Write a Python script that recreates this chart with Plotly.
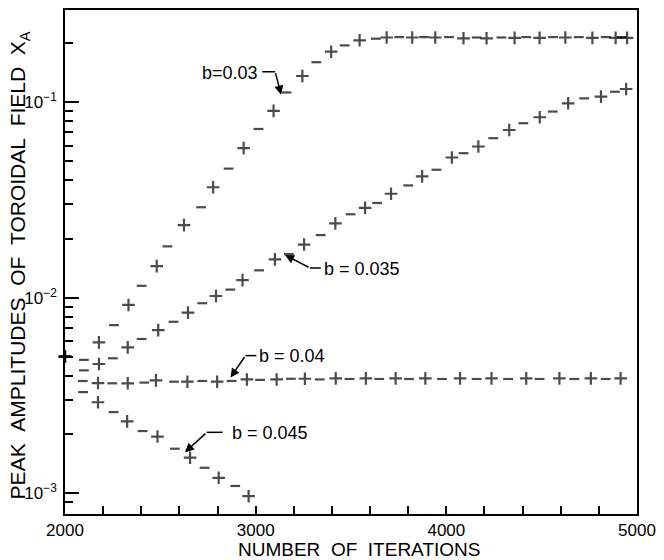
import plotly.graph_objects as go

# ---------------- data ----------------
# b = 0.03
it_030 = [2000, 2099, 2178, 2257, 2333, 2402, 2481, 2537, 2624, 2714, 2777, 2858, 2937, 3015,
          3094, 3162, 3245, 3318, 3396, 3467, 3545, 3630, 3687, 3753, 3821, 3883, 3942, 4014,
          4090, 4159, 4211, 4289, 4358, 4419, 4489, 4560, 4624, 4695, 4766, 4836, 4888, 4919, 4948]
amp_030 = [5.0e-3, 4.81e-3, 5.91e-3, 7.24e-3, 9.18e-3, 1.15e-2, 1.45e-2, 1.83e-2, 2.35e-2, 2.90e-2,
           3.67e-2, 4.57e-2, 5.82e-2, 7.29e-2, 9.02e-2, 0.112, 0.136, 0.160, 0.181, 0.195, 0.207,
           0.211, 0.214, 0.215, 0.214, 0.215, 0.214, 0.215, 0.212, 0.214, 0.212, 0.214, 0.213,
           0.215, 0.213, 0.215, 0.214, 0.215, 0.213, 0.215, 0.213, 0.215, 0.213]

# b = 0.035
it_035 = [2000, 2099, 2178, 2251, 2329, 2402, 2489, 2569, 2645, 2720, 2792, 2867, 2931, 3018,
          3101, 3174, 3254, 3341, 3418, 3498, 3574, 3637, 3710, 3800, 3873, 3948, 4029, 4090,
          4168, 4246, 4330, 4404, 4490, 4558, 4639, 4723, 4811, 4884, 4943]
amp_035 = [5.0e-3, 4.25e-3, 4.58e-3, 4.90e-3, 5.57e-3, 6.15e-3, 6.83e-3, 7.53e-3, 8.39e-3, 9.37e-3,
           1.02e-2, 1.10e-2, 1.23e-2, 1.38e-2, 1.57e-2, 1.67e-2, 1.87e-2, 2.09e-2, 2.40e-2, 2.67e-2,
           2.88e-2, 3.05e-2, 3.40e-2, 3.75e-2, 4.17e-2, 4.51e-2, 5.21e-2, 5.48e-2, 5.93e-2, 6.54e-2,
           7.20e-2, 7.80e-2, 8.37e-2, 8.95e-2, 9.86e-2, 0.1045, 0.1067, 0.113, 0.1167]

# b = 0.04
it_040 = [2000, 2093, 2173, 2248, 2329, 2416, 2477, 2572, 2642, 2720, 2798, 2874, 2954, 3023,
          3110, 3185, 3258, 3336, 3420, 3492, 3578, 3648, 3734, 3804, 3890, 3977, 4072, 4159,
          4237, 4324, 4419, 4489, 4593, 4671, 4758, 4836, 4914]
amp_040 = [5.0e-3, 3.75e-3, 3.66e-3, 3.65e-3, 3.65e-3, 3.68e-3, 3.78e-3, 3.72e-3, 3.72e-3, 3.75e-3,
           3.72e-3, 3.75e-3, 3.82e-3, 3.80e-3, 3.82e-3, 3.85e-3, 3.85e-3, 3.82e-3, 3.87e-3, 3.84e-3,
           3.87e-3, 3.84e-3, 3.87e-3, 3.84e-3, 3.87e-3, 3.84e-3, 3.87e-3, 3.84e-3, 3.87e-3, 3.84e-3,
           3.87e-3, 3.84e-3, 3.87e-3, 3.84e-3, 3.87e-3, 3.84e-3, 3.87e-3]

# b = 0.045
it_045 = [2000, 2095, 2173, 2255, 2326, 2407, 2485, 2576, 2656, 2732, 2806, 2893, 2963]
amp_045 = [5.0e-3, 3.29e-3, 2.92e-3, 2.60e-3, 2.33e-3, 2.08e-3, 1.95e-3, 1.69e-3, 1.52e-3,
           1.35e-3, 1.20e-3, 1.09e-3, 9.66e-4]

# sign of each peak alternates (+, -, +, ...)
def signs(n):
    return ["+" if i % 2 == 0 else "-" for i in range(n)]

series = [
    ("b = 0.03", it_030, amp_030),
    ("b = 0.035", it_035, amp_035),
    ("b = 0.04", it_040, amp_040),
    ("b = 0.045", it_045, amp_045),
]

x_ticks = [2000, 3000, 4000, 5000]
y_ticks = [1e-3, 1e-2, 1e-1]
y_ticktext = ["10<sup>\u22123</sup>", "10<sup>\u22122</sup>", "10<sup>\u22121</sup>"]

# ---------------- figure ----------------
W, H = 664, 560
L, R, T, B = 65, 22, 8, 46
PW, PH = W - L - R, H - T - B

def px(xp):
    return (xp - L) / PW

def py(yp):
    return (H - B - yp) / PH

FONT = "Liberation Sans, Arial, sans-serif"
fig = go.Figure()

for name, its, amps in series:
    sg = signs(len(its))
    sym = ["cross-thin" if s == "+" else "line-ew" for s in sg]
    size = [9 if s == "+" else 7 for s in sg]
    fig.add_trace(go.Scatter(
        x=its, y=amps, mode="markers", name=name, showlegend=False, cliponaxis=False,
        marker=dict(symbol=sym, size=size, color="black",
                    line=dict(color="black", width=2.2)),
    ))

minor_y = [m * 10.0 ** e for e in (-4, -3, -2, -1) for m in range(2, 10)]
minor_y = [v for v in minor_y if 8e-4 < v < 0.3 and v not in y_ticks]
minor_x = list(range(2200, 5000, 200))

fig.update_layout(
    width=W, height=H,
    margin=dict(l=L, r=R, t=T, b=B, pad=0),
    paper_bgcolor="white", plot_bgcolor="white",
    font=dict(family=FONT, color="black", size=17),
    xaxis=dict(range=[2000, 5000], tickvals=x_ticks, ticks="inside", ticklen=8,
               tickwidth=1.5, tickcolor="black", showgrid=False, zeroline=False,
               showline=True, linecolor="black", linewidth=1.5, mirror=True,
               tickfont=dict(size=17), ticklabelstandoff=0,
               minor=dict(tickvals=minor_x, ticks="inside", ticklen=8, tickwidth=1.5,
                          tickcolor="black", showgrid=False)),
    yaxis=dict(type="log", range=[-3.106, -0.529], tickvals=y_ticks, ticktext=y_ticktext,
               ticks="inside", ticklen=14, tickwidth=1.5, tickcolor="black",
               showgrid=False, zeroline=False, showline=True, linecolor="black",
               linewidth=1.5, mirror=True, tickfont=dict(size=17), ticklabelstandoff=3,
               minor=dict(tickvals=minor_y, ticks="inside", ticklen=8, tickwidth=1.5,
                          tickcolor="black", showgrid=False)),
)

annos = []
# axis titles
annos.append(dict(xref="paper", yref="paper", x=px(362), y=py(550),
                  text="NUMBER\u00a0\u00a0OF\u00a0\u00a0ITERATIONS", showarrow=False,
                  font=dict(size=19, family=FONT), xanchor="center", yanchor="middle"))
annos.append(dict(xref="paper", yref="paper", x=px(19), y=py(264),
                  text="PEAK\u00a0\u00a0AMPLITUDES\u00a0\u00a0OF\u00a0\u00a0TOROIDAL\u00a0\u00a0FIELD\u00a0\u00a0X<sub>A</sub>",
                  showarrow=False, textangle=-90,
                  font=dict(size=21, family=FONT), xanchor="center", yanchor="middle"))

labels = [
    # text, text-center(px), stub (x0,x1,y), head(px), tail(px)
    ("b=0.03", (231, 71), (264, 277, 70), (283, 93), (277, 70)),
    ("b = 0.035", (365, 268), (312, 323, 267), (287, 254), (312, 267)),
    ("b = 0.04", (294, 355), (247, 258, 355), (232, 377), (247, 355)),
    ("b = 0.045", (272, 433), (208, 224, 432), (186, 452), (208, 432)),
]
shapes = []
for txt, (cx, cy), (sx0, sx1, sy), (hx, hy), (tx, ty) in labels:
    annos.append(dict(xref="paper", yref="paper", x=px(cx), y=py(cy), text=txt,
                      showarrow=False, font=dict(size=18, family=FONT),
                      xanchor="center", yanchor="middle"))
    shapes.append(dict(type="line", xref="paper", yref="paper",
                       x0=px(sx0), x1=px(sx1), y0=py(sy), y1=py(sy),
                       line=dict(color="black", width=1.5)))
    annos.append(dict(xref="paper", yref="paper", x=px(hx), y=py(hy), text="",
                      showarrow=True, axref="pixel", ayref="pixel",
                      ax=tx - hx, ay=ty - hy, arrowhead=2, arrowsize=1.2,
                      arrowwidth=1.5, arrowcolor="black", standoff=0))

fig.update_layout(annotations=annos, shapes=shapes)
fig.write_html("out.html")
